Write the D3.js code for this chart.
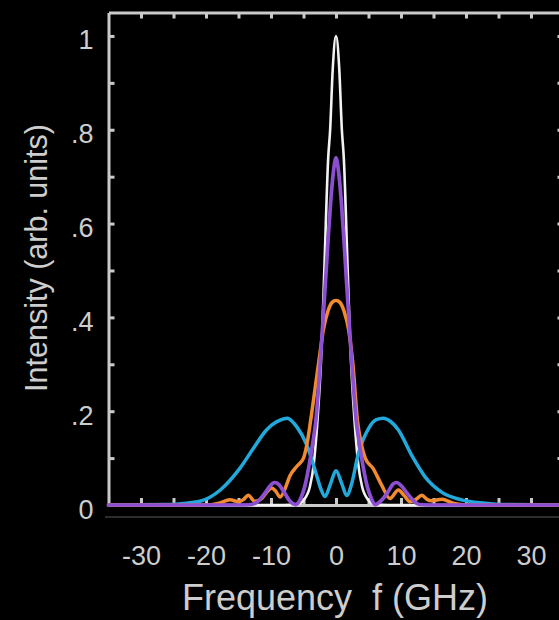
<!DOCTYPE html>
<html>
<head>
<meta charset="utf-8">
<script src="https://cdn.jsdelivr.net/npm/d3@7"></script>
<style>
html,body{margin:0;padding:0;background:#000;}
svg{display:block;}
text{font-family:"Liberation Sans",Arial,Helvetica,sans-serif;}
</style>
</head>
<body>
<svg id="chart" width="559" height="620"></svg>
<script>
// ---- data (frequency in GHz, intensity in arb. units) ----
const xTicks = [-30,-25,-20,-15,-10,-5,0,5,10,15,20,25,30];
const xLabels = [-30,-20,-10,0,10,20,30];
const yTicks = [0,0.1,0.2,0.3,0.4,0.5,0.6,0.7,0.8,0.9,1.0];
const yLabels = [0,0.2,0.4,0.6,0.8,1.0];

const whiteCurve = [[-35,0],[-8,0],[-6,0.001],[-5,0.01],[-4,0.04],[-3.4,0.09],[-2.9,0.17],[-2.2,0.34],[-1.8,0.5],[-1.2,0.74],[-0.9,0.8],[-0.5,0.93],[0,1.0],
  [0.5,0.93],[0.9,0.8],[1.2,0.74],[1.8,0.5],[2.2,0.34],[2.9,0.17],[3.4,0.09],[4,0.04],[5,0.01],[6,0.001],[8,0],[35,0]];

const blueCurve = [[-35,0],[-26,0.001],[-23,0.004],[-20.9,0.008],[-17.8,0.032],[-14.8,0.078],[-12.7,0.121],[-10.7,0.16],[-8.6,0.181],[-7.5,0.185],
  [-6.05,0.167],[-4.5,0.128],[-3.0,0.064],[-2.3,0.033],[-1.7,0.018],[-0.9,0.043],[0,0.073],[0.9,0.045],[1.65,0.02],[2.4,0.045],[3.4,0.107],
  [5.0,0.163],[6.2,0.182],[7.3,0.185],[8.4,0.178],[9.6,0.16],[11.6,0.107],[13.7,0.06],[16.3,0.027],[19.3,0.011],[22.9,0.004],[26,0.001],[35,0]];

const orangeCurve = [[-35,0],[-20,0],[-18,0.004],[-16.3,0.011],[-15,0.007],[-14.2,0.012],[-13.5,0.021],[-12.5,0.008],[-11.5,0.013],[-10.5,0.03],
  [-9.9,0.036],[-9.3,0.03],[-8.6,0.017],[-7.8,0.036],[-7.1,0.062],[-6.05,0.082],[-5,0.1],[-4.3,0.143],[-3.8,0.19],[-3.2,0.25],[-2.6,0.31],
  [-1.95,0.373],[-1.2,0.415],[-0.6,0.432],[0,0.436],[0.6,0.432],[1.2,0.415],[1.95,0.373],[2.6,0.3],[3.3,0.18],[3.9,0.13],[4.5,0.1],
  [5.7,0.078],[7.0,0.043],[8.3,0.014],[9.6,0.032],[10.5,0.02],[11.4,0.007],[12.3,0.012],[13.2,0.021],[14,0.012],[14.7,0.009],[16.3,0.012],
  [18,0.004],[20,0],[35,0]];

const purpleCurve = [[-35,0],[-14,0],[-13,0.001],[-12,0.008],[-11,0.024],[-10,0.043],[-9.5,0.048],[-9,0.046],[-8,0.028],[-7.2,0.01],[-6.2,0.001],
  [-5.4,0.015],[-4.8,0.04],[-4.2,0.08],[-3.6,0.13],[-3.1,0.18],[-2.3,0.33],[-1.6,0.48],[-1.2,0.57],[-0.8,0.65],[-0.4,0.71],[0,0.74],
  [0.4,0.71],[0.8,0.65],[1.2,0.57],[1.6,0.48],[2.3,0.33],[3.1,0.18],[3.6,0.13],[4.2,0.08],[4.8,0.04],[5.4,0.015],[6.0,0.001],
  [7.0,0.01],[8,0.028],[8.8,0.045],[9.3,0.048],[9.9,0.043],[11,0.024],[12,0.008],[12.8,0.001],[14,0],[35,0]];

const series = [
  {name:"white", data:whiteCurve, color:"#f2f2f2", width:2.6},
  {name:"blue", data:blueCurve, color:"#22a9dc", width:3.5},
  {name:"orange", data:orangeCurve, color:"#f28a30", width:3.5},
  {name:"purple", data:purpleCurve, color:"#8c4fd2", width:3.7}
];

// ---- layout ----
const svg = d3.select("#chart");
const x = d3.scaleLinear().domain([-35,35]).range([108.5,563.5]);
const y = d3.scaleLinear().domain([0,1.05]).range([505,12.5]);
const axisColor = "#cacaca";
const textColor = "#cdcdcd";

// faint bottom line
svg.append("line").attr("x1",105).attr("x2",559).attr("y1",517).attr("y2",517)
  .attr("stroke","#5a5a5a").attr("stroke-width",1.2);

function styleAxis(g){
  g.select(".domain").attr("stroke",axisColor).attr("stroke-width",3);
  g.selectAll(".tick line").attr("stroke",axisColor).attr("stroke-width",3);
  g.selectAll(".tick text").attr("fill",textColor);
}

// top axis
svg.append("g").attr("transform",`translate(0,${y(1.05)})`)
  .call(d3.axisTop(x).tickValues(xTicks).tickSizeInner(-6).tickSizeOuter(0).tickFormat(""))
  .call(styleAxis);

// bottom axis (at zero)
const gx = svg.append("g").attr("transform",`translate(0,${y(0)})`)
  .call(d3.axisBottom(x).tickValues(xTicks).tickSizeInner(-7).tickSizeOuter(0)
    .tickFormat(d => xLabels.includes(d) ? String(d) : ""))
  .call(styleAxis);
gx.selectAll(".tick text").attr("y",60).attr("dy",0).attr("font-size",27);

// left axis
const gy = svg.append("g").attr("transform",`translate(${x(-35)},0)`)
  .call(d3.axisLeft(y).tickValues(yTicks).tickSizeInner(-6).tickSizeOuter(0)
    .tickFormat(d => {
      const lab = yLabels.find(v => Math.abs(v-d)<1e-9);
      if (lab === undefined) return "";
      if (lab === 0) return "0";
      if (lab === 1) return "1";
      return d3.format(".1f")(lab).replace(/^0/,"");
    }))
  .call(styleAxis);
gy.selectAll(".tick text").attr("x",-15).attr("dy",13).attr("font-size",27);

// right axis
svg.append("g").attr("transform",`translate(${x(35)},0)`)
  .call(d3.axisRight(y).tickValues(yTicks).tickSizeInner(-6).tickSizeOuter(0).tickFormat(""))
  .call(styleAxis);

// curves
const line = d3.line().x(d => x(d[0])).y(d => y(d[1])).curve(d3.curveMonotoneX);
svg.append("g").selectAll("path").data(series).join("path")
  .attr("d", d => line(d.data))
  .attr("fill","none")
  .attr("stroke", d => d.color)
  .attr("stroke-width", d => d.width)
  .attr("stroke-linejoin","round")
  .attr("stroke-linecap","round");

// axis titles
svg.append("text").attr("x",335).attr("y",610).attr("text-anchor","middle")
  .attr("font-size",36).attr("fill",textColor).style("white-space","pre").text("Frequency  f (GHz)");
svg.append("text").attr("transform","translate(47,258) rotate(-90)").attr("text-anchor","middle")
  .attr("font-size",30.5).attr("fill",textColor).text("Intensity (arb. units)");
</script>
</body>
</html>
